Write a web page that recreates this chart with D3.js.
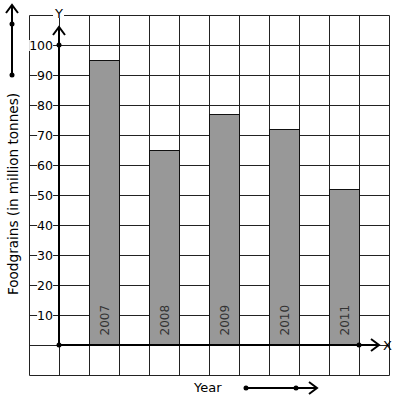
<!DOCTYPE html>
<html>
<head>
<style>
body { margin: 0; background: #fff; }
text { font-family: "DejaVu Sans", sans-serif; }
</style>
</head>
<body>
<svg id="chart" width="397" height="401"></svg>
<script src="https://d3js.org/d3.v7.min.js"></script>
<script>
var years = ["2007", "2008", "2009", "2010", "2011"];
var foodgrains = [95, 65, 77, 72, 52];
var yTicks = [10, 20, 30, 40, 50, 60, 70, 80, 90, 100];

var svg = d3.select("#chart");

// grid units: one cell = 10 tonnes vertically, one column horizontally
var gx = d3.scaleLinear().domain([-1, 11]).range([29.5, 389.5]);
var y = d3.scaleLinear().domain([-10, 110]).range([375.5, 15.5]);
var x = d3.scaleBand().domain(years).range([gx(1) - 0.5, gx(10) - 0.5]).paddingInner(0.5).paddingOuter(0);

// grid
var grid = svg.append("g").attr("stroke", "#222").attr("stroke-width", 1);
grid.selectAll("line.v").data(d3.range(-1, 12)).enter().append("line")
    .attr("x1", d => gx(d)).attr("x2", d => gx(d))
    .attr("y1", y(110)).attr("y2", y(-10));
grid.selectAll("line.h").data(d3.range(-10, 120, 10)).enter().append("line")
    .attr("y1", d => y(d)).attr("y2", d => y(d))
    .attr("x1", gx(-1)).attr("x2", gx(11));

// bars
svg.append("g").selectAll("rect").data(years).enter().append("rect")
    .attr("x", d => x(d) + 0.5)
    .attr("y", (d, i) => y(foodgrains[i]))
    .attr("width", x.bandwidth())
    .attr("height", (d, i) => y(0) - y(foodgrains[i]))
    .attr("fill", "#989898")
    .attr("stroke", "#111")
    .attr("stroke-width", 1);

svg.append("g").selectAll("text").data(years).enter().append("text")
    .attr("transform", d => "translate(" + (x(d) + x.bandwidth() / 2 + 4.5) + "," + (y(0) - 10) + ") rotate(-90)")
    .attr("font-size", 12)
    .attr("fill", "#333")
    .text(d => d);

// arrow heads
function chevron(g, tx, ty, angle) {
  g.append("path")
    .attr("d", "M-8,-6 L0,0 L-8,6")
    .attr("transform", "translate(" + tx + "," + ty + ") rotate(" + angle + ")")
    .attr("fill", "none").attr("stroke", "#000").attr("stroke-width", 2);
}

// axes
var axes = svg.append("g");
var ox = gx(0) - 0.5, oy = y(0) - 0.5;
axes.append("line").attr("x1", ox).attr("x2", ox).attr("y1", oy).attr("y2", 27)
    .attr("stroke", "#000").attr("stroke-width", 2);
axes.append("line").attr("x1", ox).attr("x2", 379).attr("y1", oy).attr("y2", oy)
    .attr("stroke", "#000").attr("stroke-width", 2);
chevron(axes, ox, 27, -90);
chevron(axes, 379, oy, 0);
axes.append("circle").attr("cx", ox).attr("cy", oy).attr("r", 2.5);
axes.append("circle").attr("cx", ox).attr("cy", y(100) - 0.5).attr("r", 2.5);
axes.append("circle").attr("cx", gx(10) - 0.5).attr("cy", oy).attr("r", 2.5);

// y tick labels over the grid
var yAxis = svg.append("g")
    .attr("transform", "translate(" + ox + ",0)")
    .call(d3.axisLeft(y).tickValues(yTicks).tickSize(0).tickPadding(6));
yAxis.select(".domain").remove();
yAxis.selectAll("text").attr("font-size", 12.5).attr("fill", "#000").attr("font-family", "DejaVu Sans");
yAxis.selectAll(".tick").each(function() {
  var t = d3.select(this).select("text").node().getBBox();
  d3.select(this).insert("rect", "text")
    .attr("x", t.x).attr("y", t.y + 2).attr("width", t.width).attr("height", t.height - 4)
    .attr("fill", "#fff");
});

// axis letters
var yl = svg.append("text").attr("x", ox).attr("y", 18).attr("text-anchor", "middle")
    .attr("font-size", 13).text("Y");
var yb = yl.node().getBBox();
svg.insert("rect", function() { return yl.node(); })
    .attr("x", yb.x - 1).attr("y", 12).attr("width", yb.width + 2).attr("height", 6).attr("fill", "#fff");
svg.append("text").attr("x", 383).attr("y", oy + 5).attr("font-size", 13).text("X");

// titles
svg.append("text")
    .attr("transform", "translate(18," + 194 + ") rotate(-90)")
    .attr("text-anchor", "middle")
    .attr("font-size", 13.6)
    .text("Foodgrains (in million tonnes)");
svg.append("text").attr("x", 194).attr("y", 392).attr("font-size", 13).text("Year");

// decorative direction arrows
var deco = svg.append("g");
deco.append("line").attr("x1", 12).attr("x2", 12).attr("y1", 75).attr("y2", 5)
    .attr("stroke", "#000").attr("stroke-width", 2);
chevron(deco, 12, 5, -90);
deco.append("circle").attr("cx", 12).attr("cy", 24).attr("r", 2.5);
deco.append("circle").attr("cx", 12).attr("cy", 75).attr("r", 2.5);
deco.append("line").attr("x1", 246).attr("x2", 317).attr("y1", 388).attr("y2", 388)
    .attr("stroke", "#000").attr("stroke-width", 2);
chevron(deco, 317, 388, 0);
deco.append("circle").attr("cx", 246).attr("cy", 388).attr("r", 2.5);
deco.append("circle").attr("cx", 296).attr("cy", 388).attr("r", 2.5);
</script>
</body>
</html>
